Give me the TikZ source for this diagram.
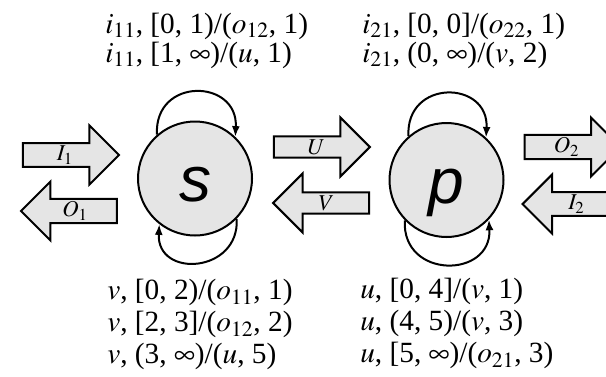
\documentclass[tikz,border=0pt]{standalone}
\usepackage{mathptmx}
\usepackage{fontspec}
\setmainfont{Liberation Serif}
\newfontfamily\statefont{Liberation Sans}
\usepackage{tikz}
\usetikzlibrary{arrows.meta,shapes.arrows,positioning}

\begin{document}
\begin{tikzpicture}[
  x=0.75pt, y=0.75pt,
  state/.style={circle, draw, line width=1.5pt, fill=black!10, minimum size=85.5pt,
                inner sep=0pt, text height=35pt, text depth=0pt,
                font=\statefont\itshape\fontsize{48}{48}\selectfont},
  block/.style={single arrow, draw, line width=1.5pt, fill=black!10, inner sep=0pt,
                minimum height=72pt, minimum width=44.25pt,
                single arrow head extend=11.25pt, single arrow tip angle=90,
                font=\fontsize{17}{17}\selectfont},
  blockleft/.style={block, shape border rotate=180},
  loop/.style={-{Latex[length=8pt,width=6pt]}, line width=1.5pt},
  trans/.style={anchor=north west, align=left, inner sep=0pt},
  transtop/.style={trans, font=\fontsize{22}{22}\selectfont},
  transbot/.style={trans, font=\fontsize{22}{24}\selectfont}
]
  \useasboundingbox (0,0) rectangle (606,376);
  \clip (0,0) rectangle (606,376);

  % the two states
  \node[state] (s) at (195,197.5) {s};
  \node[state] (p) at (446.5,196) {p};

  % ports as block arrows
  \node[block] (I1) at (65,221) {$I_1$};
  \node[blockleft] (O1) at (75,165) {$O_1$};
  \node[block] (U) at (316.5,229) {$U$};
  \node[blockleft] (V) at (326.5,173) {$V$};
  \node[block] (O2) at (566.5,229) {$O_2$};
  \node[blockleft] (I2) at (576.5,172) {$I_2$};

  % self loops
  \draw[loop] (s.131) to[out=93, in=87, looseness=1.9] (s.46);
  \draw[loop] (s.-44) to[out=-87, in=-93, looseness=1.8] (s.-128);
  \draw[loop] (p.131) to[out=93, in=87, looseness=1.9] (p.47);
  \draw[loop] (p.-136) to[out=-93, in=-87, looseness=1.8] (p.-43);

  % transition labels
  \node[transtop] (s-top) at (105,363.5)
    {$i_{11}$, [0, 1)/($o_{12}$, 1)\\ $i_{11}$, [1, $\infty$)/($u$, 1)};
  \node[transtop] (p-top) at (362,363.5)
    {$i_{21}$, [0, 0]/($o_{22}$, 1)\\ $i_{21}$, (0, $\infty$)/($v$, 2)};
  \node[transbot] (s-bot) at (107,97)
    {$v$, [0, 2)/($o_{11}$, 1)\\ $v$, [2, 3]/($o_{12}$, 2)\\ $v$, (3, $\infty$)/($u$, 5)};
  \node[transbot] (p-bot) at (360,98)
    {$u$, [0, 4]/($v$, 1)\\ $u$, (4, 5)/($v$, 3)\\ $u$, [5, $\infty$)/($o_{21}$, 3)};
\end{tikzpicture}
\end{document}
